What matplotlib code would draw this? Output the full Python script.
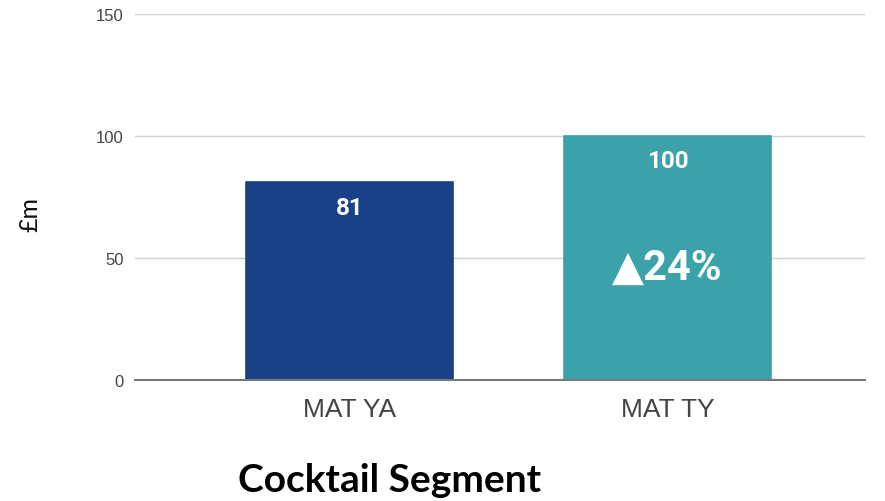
import matplotlib
matplotlib.use("Agg")
import matplotlib.pyplot as plt

# Cocktail segment value, £m
categories = ["MAT YA", "MAT TY"]
values = [81, 100]
bar_colors = ["#1A4088", "#3AA2A8"]
growth_label = "▲24%"
y_ticks = [0, 50, 100, 150]

fig = plt.figure(figsize=(8.85, 5.02), dpi=100)
ax = fig.add_axes([0.1525, 0.241, 0.9774 - 0.1525, 0.970 - 0.241])

x = list(range(len(categories)))
bars = ax.bar(x, values, width=0.648, color=bar_colors, edgecolor=bar_colors,
              linewidth=1.2, joinstyle="round", zorder=3)

ax.set_ylim(0, 150)
ax.set_xlim(-0.6745, 1.621)
ax.set_yticks(y_ticks)
ax.set_xticks(x)
ax.set_xticklabels(categories)

ax.grid(axis="y", color="#d0d0d0", linewidth=1.0, zorder=0)
for s in ["top", "right", "left"]:
    ax.spines[s].set_visible(False)
ax.spines["bottom"].set_color("#777777")
ax.spines["bottom"].set_linewidth(1.5)
ax.spines["bottom"].set_zorder(4)

ax.tick_params(axis="y", length=0, pad=8, labelsize=12, labelcolor="#444444")
ax.tick_params(axis="x", length=0, pad=12, labelsize=19, labelcolor="#444444")
for lbl in ax.get_xticklabels() + ax.get_yticklabels():
    lbl.set_fontfamily("Liberation Sans")

# value labels inside the top of each bar
for xi, v in zip(x, values):
    ax.text(xi, v - 5.5, f"{v}", ha="center", va="top", color="white",
            fontsize=17.5, fontweight="bold", family=["Roboto", "DejaVu Sans"], zorder=5)

# growth callout on the current-year bar
ax.text(x[1], 46, growth_label, ha="center", va="center", color="white",
        fontsize=30, fontweight="bold", family=["Roboto", "DejaVu Sans"], zorder=5)

fig.text(30 / 885, 1 - 215 / 502, "£m", rotation=90, ha="center", va="center",
         fontsize=18, color="#111111", family=["Lato", "DejaVu Sans"])

fig.text(390 / 885, 1 - 481 / 502, "Cocktail Segment", ha="center", va="center",
         fontsize=28, fontweight="bold", color="#000000", family=["Lato", "DejaVu Sans"])

fig.savefig("out.png", dpi=100)
